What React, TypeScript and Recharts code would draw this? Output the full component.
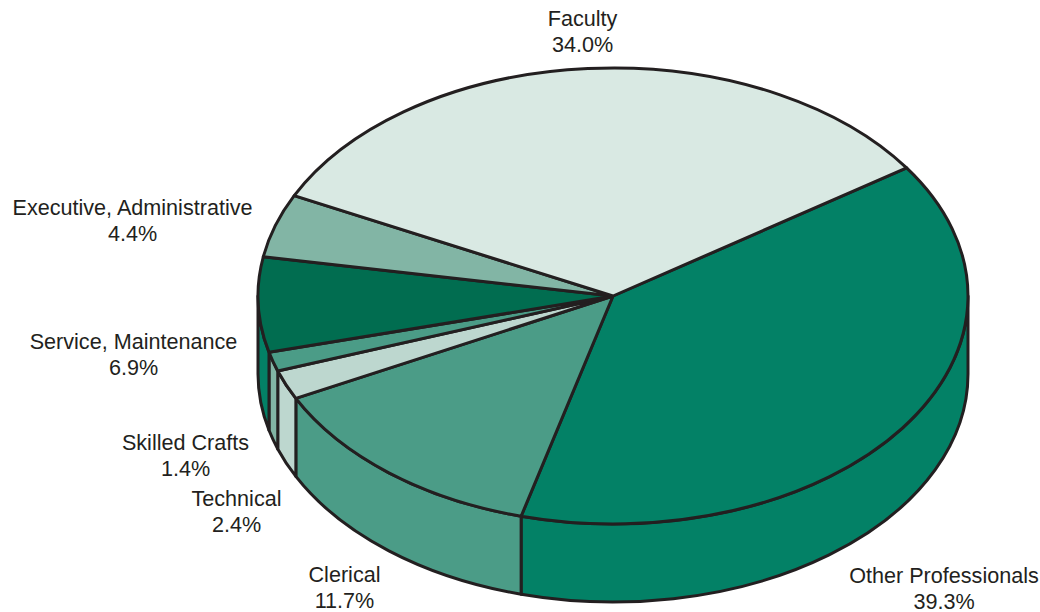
import { Pie, PieChart } from "recharts"

// wedge sweeps in degrees as drawn in the picture (the artwork doesn't quite follow its own percentages)
const categories = ["Other Professionals", "Clerical", "Technical", "Skilled Crafts", "Service, Maintenance", "Executive, Administrative", "Faculty"]
const sweeps = [139.2, 48.3, 7.5, 4.9, 24.2, 16.2, 119.7]
const percentLabels = ["39.3%", "11.7%", "2.4%", "1.4%", "6.9%", "4.4%", "34.0%"]
const topColors = ["#038166", "#4b9c87", "#bdd7cf", "#4b9c87", "#016d50", "#82b5a5", "#d9e9e3"]
const wallColors = ["#038166", "#4b9c87", "#bdd7cf", "#82b5a5", "#038166", "#82b5a5", "#d9e9e3"]

// label centres, not data
const labelSpots = [
  [944, 582.5], [344.5, 581.5], [236.5, 505.5], [185.5, 449.5], [133.5, 349], [132.5, 214.5], [582.5, 25.5],
]

const data = categories.map((name, i) => ({ name, value: sweeps[i], fill: topColors[i], wall: wallColors[i] }))

const INK = "#231f20"
const SQUASH = 355 / 228
const DEPTH = 78

function Slice(props: any) {
  const { cx, cy, outerRadius, startAngle, endAngle, fill, wall } = props
  const rx = outerRadius * SQUASH
  const ry = outerRadius
  const pt = (deg: number, dy = 0) => {
    const t = (deg * Math.PI) / 180
    return `${cx + rx * Math.cos(t)} ${cy - ry * Math.sin(t) + dy}`
  }
  const hi = Math.max(startAngle, endAngle)
  const lo = Math.min(startAngle, endAngle)
  const large = hi - lo > 180 ? 1 : 0
  const top = `M${cx} ${cy}L${pt(hi)}A${rx} ${ry} 0 ${large} 1 ${pt(lo)}Z`

  // only the part facing the viewer gets a side wall
  const wallHi = Math.min(hi, 0)
  const wallLo = Math.max(lo, -180)
  const hasWall = wallHi > wallLo
  const side = hasWall
    ? `M${pt(wallHi)}A${rx} ${ry} 0 0 1 ${pt(wallLo)}L${pt(wallLo, DEPTH)}A${rx} ${ry} 0 0 0 ${pt(wallHi, DEPTH)}Z`
    : ""

  return (
    <g>
      {hasWall && <path d={side} fill={wall} stroke={INK} strokeWidth={3} strokeLinejoin="round" />}
      <path d={top} fill={fill} stroke={INK} strokeWidth={3} strokeLinejoin="round" />
    </g>
  )
}

function sliceLabel({ index }: any) {
  const [x, y] = labelSpots[index]
  return (
    <text x={x} y={y} textAnchor="middle" fontFamily="Liberation Sans" fontSize={21.6} fill={INK}>
      <tspan x={x} dy={0}>{categories[index]}</tspan>
      <tspan x={x} dy={26}>{percentLabels[index]}</tspan>
    </text>
  )
}

export default function App() {
  return (
    <div style={{ position: "absolute", left: 0, top: 0, width: 1040, height: 612, background: "#fff" }}>
      <PieChart width={1040} height={612} margin={{ top: 0, right: 0, bottom: 0, left: 0 }}>
        <Pie
          data={data}
          dataKey="value"
          cx={613}
          cy={296}
          innerRadius={0}
          outerRadius={228}
          startAngle={34.2}
          endAngle={-325.8}
          stroke="none"
          shape={Slice}
          label={sliceLabel}
          labelLine={false}
          isAnimationActive={false}
        />
      </PieChart>
    </div>
  )
}
